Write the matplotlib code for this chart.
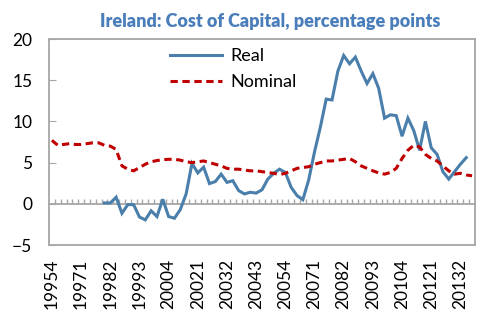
import numpy as np
import matplotlib
matplotlib.use('Agg')
import matplotlib.pyplot as plt

plt.rcParams['font.family'] = ['Lato', 'DejaVu Sans']

# quarterly series 1995Q4 .. 2013Q4
quarters = [f'{y}{q}' for y in range(1995, 2014) for q in range(1, 5)][3:]
nominal = [7.7, 7.1, 7.2, 7.3, 7.2, 7.2, 7.3, 7.4, 7.4, 7.1,
           7.0, 6.6, 4.6, 4.2, 4.0, 4.4, 4.8, 5.1, 5.25, 5.35,
           5.4, 5.4, 5.3, 5.1, 5.0, 5.1, 5.2, 5.0, 4.8, 4.6,
           4.3, 4.2, 4.2, 4.1, 4.0, 4.0, 3.9, 3.8, 3.7, 3.55,
           3.7, 4.0, 4.3, 4.4, 4.5, 4.8, 5.0, 5.2, 5.2, 5.3,
           5.4, 5.5, 5.1, 4.6, 4.3, 4.0, 3.75, 3.6, 3.8, 4.3,
           5.5, 6.5, 7.1, 6.9, 6.0, 5.5, 5.2, 4.6, 4.0, 3.6,
           3.7, 3.5, 3.4]
real = [None] * 9 + [
    0.1, 0.1, 0.8, -1.15, -0.1, -0.1, -1.6, -1.95, -0.85, -1.55,
    0.55, -1.55, -1.75, -0.7, 1.2, 4.9, 3.75, 4.45, 2.45, 2.7,
    3.6, 2.6, 2.8, 1.6, 1.2, 1.4, 1.3, 1.7, 3.0, 3.7,
    4.2, 3.8, 2.0, 1.0, 0.5, 2.9, 6.3, 9.3, 12.7, 12.6,
    16.1, 18.0, 17.0, 17.8, 16.1, 14.6, 15.8, 14.0, 10.4, 10.8,
    10.7, 8.2, 10.4, 8.9, 6.5, 10.0, 6.8, 6.0, 3.9, 3.0,
    3.9, 4.8, 5.6]
label_idx = list(range(0, len(quarters), 5))

x = np.arange(len(quarters))
real_arr = np.array([np.nan if v is None else v for v in real])

fig = plt.figure(figsize=(4.99, 3.21), dpi=100)
ax = fig.add_axes([49/499, 1-245/321, 426/499, 206/321])

gray = '#a6a6a6'
ax.plot(x[:len(real_arr)], real_arr, color='#4a7eab', lw=2.2,
        solid_joinstyle='miter', label='Real')
ax.plot(x, nominal, color='#c00000', lw=2.2, dashes=(2.4, 1.5), label='Nominal')

ax.set_xlim(-0.5, len(quarters) - 0.5)
ax.set_ylim(-5, 20)
ax.set_yticks(range(-5, 21, 5))
ax.set_xticks(label_idx, [quarters[i] for i in label_idx], rotation=90)
ax.tick_params(axis='x', length=0, pad=10, labelsize=12.5)
ax.tick_params(axis='y', direction='in', length=5, color=gray, pad=12, labelsize=12.5)
for s in ax.spines.values():
    s.set_color(gray)
    s.set_linewidth(1.3)

# zero line with quarterly tick marks
sec = ax.secondary_xaxis(0.2)
sec.spines['bottom'].set_color(gray)
sec.spines['bottom'].set_linewidth(1.3)
sec.set_xticks(np.arange(0.5, len(quarters) - 1, 1))
sec.tick_params(axis='x', direction='in', length=3.5, color=gray, width=1,
                labelbottom=False)

ax.legend(loc='upper left', bbox_to_anchor=(0.283, 0.955), frameon=False,
          fontsize=13, handlelength=2.9, handletextpad=0.45,
          labelspacing=0.55, borderpad=0, borderaxespad=0)

fig.text(0.541, 1-21/321, 'Ireland: Cost of Capital, percentage points',
         ha='center', va='center', fontsize=13, fontweight='heavy', color='#4a7ebb')

plt.savefig('out.png', dpi=100)
